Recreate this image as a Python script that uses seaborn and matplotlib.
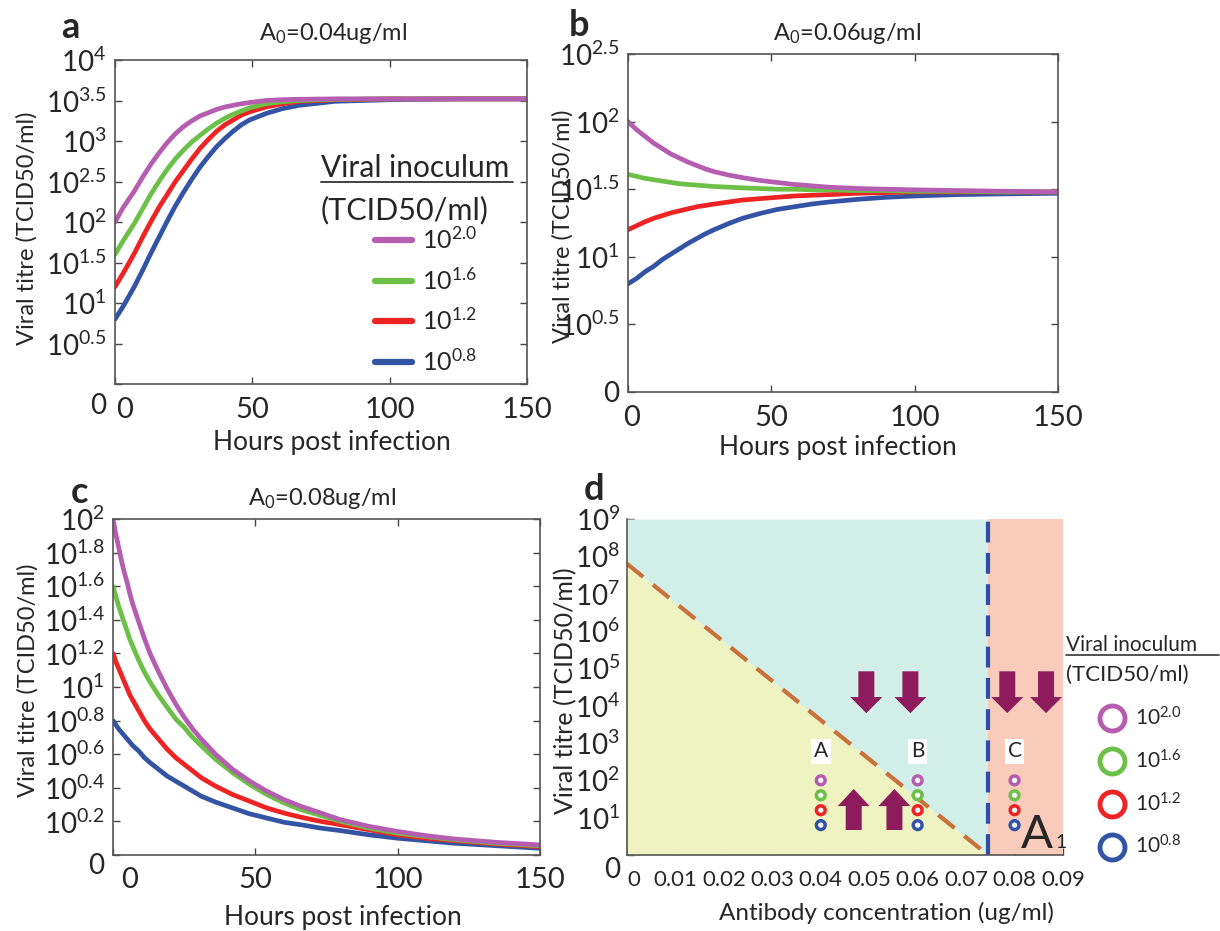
import matplotlib
matplotlib.use("Agg")
import matplotlib.pyplot as plt
import seaborn as sns
import pandas as pd
from matplotlib.lines import Line2D
from matplotlib.transforms import ScaledTranslation

# viral inoculum levels (log10 TCID50/ml) and line colours
inoculum = ["10$^{2.0}$", "10$^{1.6}$", "10$^{1.2}$", "10$^{0.8}$"]
colors = ["#b55db0", "#6cbf47", "#ee2424", "#3353a4"]

# panel a: A0 = 0.04 ug/ml, log10 titre
hours_a = [0, 3, 7, 10, 13, 16, 19, 22, 25, 28, 31, 34, 37, 40, 43, 46, 49, 55, 61, 67, 80, 100, 125, 150]
titre_a_20 = [2.00, 2.18, 2.38, 2.55, 2.71, 2.85, 2.98, 3.09, 3.18, 3.25, 3.31, 3.35, 3.39, 3.42,
              3.44, 3.46, 3.475, 3.50, 3.51, 3.515, 3.52, 3.52, 3.52, 3.52]
titre_a_16 = [1.60, 1.77, 1.98, 2.16, 2.34, 2.50, 2.65, 2.78, 2.89, 2.99, 3.07, 3.15, 3.22, 3.28,
              3.33, 3.37, 3.41, 3.46, 3.485, 3.50, 3.515, 3.52, 3.52, 3.52]
titre_a_12 = [1.20, 1.37, 1.61, 1.81, 2.00, 2.18, 2.34, 2.50, 2.64, 2.78, 2.91, 3.02, 3.12, 3.20,
              3.26, 3.32, 3.36, 3.42, 3.46, 3.49, 3.51, 3.52, 3.52, 3.52]
titre_a_08 = [0.80, 0.96, 1.20, 1.40, 1.61, 1.81, 2.01, 2.20, 2.37, 2.53, 2.68, 2.81, 2.93, 3.03,
              3.12, 3.20, 3.26, 3.34, 3.40, 3.44, 3.49, 3.51, 3.52, 3.52]

# panel b: A0 = 0.06 ug/ml
hours_b = [0, 3, 6, 9, 12, 15, 18, 21, 24, 27, 30, 35, 40, 46, 52, 58, 64, 70, 80, 90, 100, 115, 130, 150]
titre_b_20 = [2.00, 1.94, 1.89, 1.84, 1.80, 1.76, 1.73, 1.70, 1.675, 1.65, 1.63, 1.605, 1.585, 1.565,
              1.55, 1.535, 1.525, 1.515, 1.505, 1.50, 1.495, 1.49, 1.485, 1.48]
titre_b_16 = [1.61, 1.595, 1.58, 1.57, 1.56, 1.55, 1.54, 1.535, 1.53, 1.525, 1.52, 1.515, 1.51, 1.505,
              1.50, 1.50, 1.495, 1.495, 1.49, 1.49, 1.485, 1.485, 1.48, 1.48]
titre_b_12 = [1.20, 1.23, 1.26, 1.285, 1.305, 1.325, 1.34, 1.355, 1.37, 1.38, 1.39, 1.405, 1.42, 1.43,
              1.44, 1.45, 1.455, 1.46, 1.47, 1.475, 1.48, 1.48, 1.48, 1.48]
titre_b_08 = [0.80, 0.84, 0.89, 0.93, 0.98, 1.02, 1.06, 1.10, 1.135, 1.17, 1.20, 1.245, 1.285, 1.32,
              1.35, 1.37, 1.39, 1.405, 1.425, 1.44, 1.45, 1.46, 1.465, 1.47]

# panel c: A0 = 0.08 ug/ml
hours_c = [0, 1, 2, 3, 4, 5, 6, 7, 9, 11, 13, 16, 19, 22, 25, 28, 31, 36, 42, 48, 54, 60, 66, 73,
           80, 90, 100, 110, 120, 135, 150]
titre_c_20 = [2.00, 1.91, 1.83, 1.75, 1.68, 1.62, 1.55, 1.49, 1.39, 1.29, 1.20, 1.09, 0.99, 0.90,
              0.82, 0.75, 0.69, 0.60, 0.51, 0.44, 0.38, 0.33, 0.29, 0.25, 0.21, 0.17, 0.14, 0.115,
              0.095, 0.075, 0.06]
titre_c_16 = [1.60, 1.54, 1.48, 1.43, 1.38, 1.33, 1.28, 1.24, 1.16, 1.09, 1.03, 0.95, 0.88, 0.81,
              0.76, 0.70, 0.65, 0.57, 0.49, 0.42, 0.36, 0.31, 0.27, 0.235, 0.20, 0.16, 0.13, 0.11,
              0.09, 0.07, 0.055]
titre_c_12 = [1.20, 1.15, 1.11, 1.07, 1.03, 0.99, 0.95, 0.92, 0.86, 0.80, 0.75, 0.69, 0.63, 0.58,
              0.54, 0.50, 0.46, 0.41, 0.36, 0.32, 0.28, 0.25, 0.225, 0.20, 0.18, 0.15, 0.12, 0.10,
              0.085, 0.065, 0.05]
titre_c_08 = [0.80, 0.775, 0.75, 0.73, 0.71, 0.69, 0.67, 0.65, 0.62, 0.58, 0.55, 0.51, 0.47, 0.44,
              0.41, 0.38, 0.35, 0.315, 0.28, 0.245, 0.22, 0.195, 0.18, 0.16, 0.145, 0.12, 0.10,
              0.085, 0.07, 0.055, 0.04]

# panel d: phase diagram
boundary_ab = [0.0, 0.0745]      # antibody conc. along the dashed boundary
boundary_titre = [7.8, 0.0]      # log10 titre along the dashed boundary
critical_ab = 0.0745             # A1
sample_ab = [0.04, 0.06, 0.08]
sample_names = ["A", "B", "C"]
sample_titre = [2.0, 1.6, 1.2, 0.8]
down_arrow_ab = [0.0494, 0.0585, 0.0785, 0.0865]
down_arrow_from, down_arrow_to = 4.92, 3.80
up_arrow_ab = [0.0468, 0.0552]
up_arrow_from, up_arrow_to = 0.67, 1.77

yticks_a = [0, 0.5, 1, 1.5, 2, 2.5, 3, 3.5, 4]
yticks_b = [0, 0.5, 1, 1.5, 2, 2.5]
yticks_c = [0, 0.2, 0.4, 0.6, 0.8, 1, 1.2, 1.4, 1.6, 1.8, 2]
yticks_d = [0, 1, 2, 3, 4, 5, 6, 7, 8, 9]
xticks_hours = [0, 50, 100, 150]
xticks_ab = [0, 0.01, 0.02, 0.03, 0.04, 0.05, 0.06, 0.07, 0.08, 0.09]


def long_frame(hours, series):
    rows = []
    for name, vals in zip(inoculum, series):
        for h, v in zip(hours, vals):
            rows.append({"hours": h, "titre": v, "inoculum": name})
    return pd.DataFrame(rows)


def pow_label(v):
    if v == 0:
        return "0"
    if float(v).is_integer():
        return "10$^{%d}$" % v
    return "10$^{%g}$" % v


sns.set_theme(style="ticks")
plt.rcParams["font.family"] = ["Lato", "DejaVu Sans"]
plt.rcParams["mathtext.fontset"] = "custom"
plt.rcParams["mathtext.rm"] = "Lato"
plt.rcParams["mathtext.it"] = "Lato:italic"
plt.rcParams["mathtext.bf"] = "Lato:bold"
plt.rcParams["mathtext.default"] = "regular"

fig = plt.figure(figsize=(12.2, 9.31), dpi=100)
W, H = 1220, 931


def box(left, top, right, bottom):
    return [left / W, 1 - bottom / H, (right - left) / W, (bottom - top) / H]


ax_a = fig.add_axes(box(115, 60, 527, 384))
ax_b = fig.add_axes(box(628, 54, 1058, 392))
ax_c = fig.add_axes(box(113, 519, 540, 855))
ax_d = fig.add_axes(box(627, 519, 1063, 855))

palette = dict(zip(inoculum, colors))
panels = [
    (ax_a, hours_a, [titre_a_20, titre_a_16, titre_a_12, titre_a_08], yticks_a, "A$_0$=0.04ug/ml", (0.53, 1.083)),
    (ax_b, hours_b, [titre_b_20, titre_b_16, titre_b_12, titre_b_08], yticks_b, "A$_0$=0.06ug/ml", (0.51, 1.062)),
    (ax_c, hours_c, [titre_c_20, titre_c_16, titre_c_12, titre_c_08], yticks_c, "A$_0$=0.08ug/ml", (0.49, 1.0625)),
]

for ax, hours, series, yt, title, tpos in panels:
    df = long_frame(hours, series)
    sns.lineplot(data=df, x="hours", y="titre", hue="inoculum", palette=palette,
                 hue_order=inoculum[::-1], linewidth=3.4, legend=False, ax=ax)
    ax.set_xlim(0, 150)
    ax.set_ylim(yt[0], yt[-1])
    ax.set_xticks(xticks_hours)
    ax.set_yticks(yt)
    ax.set_yticklabels([pow_label(v) for v in yt])
    ax.tick_params(axis="x", labelsize=21, pad=9)
    ax.tick_params(axis="y", labelsize=20, pad=6)
    ax.tick_params(direction="in", top=True, right=True, length=5, width=1, color="#444444")
    ax.set_xlabel("Hours post infection", fontsize=19)
    ax.set_ylabel("Viral titre (TCID50/ml)", fontsize=17)
    ax.text(tpos[0], tpos[1], title, transform=ax.transAxes, ha="center", va="center", fontsize=17)
    for s in ax.spines.values():
        s.set_color("#555555")
        s.set_linewidth(1.2)

ax_a.xaxis.set_label_coords(0.527, -0.182)
ax_a.yaxis.set_label_coords(-0.214, 0.48)
ax_b.xaxis.set_label_coords(0.487, -0.163)
ax_b.yaxis.set_label_coords(-0.151, 0.49)
ax_c.xaxis.set_label_coords(0.539, -0.185)
ax_c.yaxis.set_label_coords(-0.199, 0.52)

# panel a legend
handles = [Line2D([], [], color=c, lw=4.5) for c in colors]
ax_a.legend(handles, inoculum, loc="upper left", bbox_to_anchor=(0.6, 0.525), frameon=False,
            fontsize=18, handlelength=1.5, labelspacing=0.56, handletextpad=0.4, borderpad=0)
ax_a.text(0.5, 0.667, "Viral inoculum", transform=ax_a.transAxes, ha="left", va="center", fontsize=21.5)
ax_a.add_line(Line2D([0.5, 0.965], [0.625, 0.625], transform=ax_a.transAxes, color="#333333", lw=1.3))
ax_a.text(0.5, 0.537, "(TCID50/ml)", transform=ax_a.transAxes, ha="left", va="center", fontsize=22)

# panel d: regions
ax_d.fill_between(boundary_ab, boundary_titre, yticks_d[-1], color="#d2eee9", lw=0)
ax_d.fill_between(boundary_ab, yticks_d[0], boundary_titre, color="#eef3c1", lw=0)
ax_d.axvspan(critical_ab, xticks_ab[-1], color="#f9cbbb", lw=0)
sns.lineplot(x=boundary_ab, y=boundary_titre, color="#c9713a", lw=3, dashes=False, ax=ax_d)
ax_d.lines[-1].set_dashes((5, 3))
ax_d.axvline(critical_ab, color="#2f4fa6", lw=3, dashes=(5, 2.5))

for x in down_arrow_ab:
    ax_d.arrow(x, down_arrow_from, 0, down_arrow_to - down_arrow_from, width=0.0033,
               head_width=0.0066, head_length=0.43, length_includes_head=True,
               color="#8e1b5c", lw=0, zorder=4)
for x in up_arrow_ab:
    ax_d.arrow(x, up_arrow_from, 0, up_arrow_to - up_arrow_from, width=0.0033,
               head_width=0.0066, head_length=0.46, length_includes_head=True,
               color="#8e1b5c", lw=0, zorder=4)

for x, name in zip(sample_ab, sample_names):
    ax_d.scatter([x] * 4, sample_titre, s=40, facecolors="white", edgecolors=colors,
                 linewidths=2.5, zorder=5)
    ax_d.text(x, 2.78, name, ha="center", va="center", fontsize=15, zorder=5,
              bbox=dict(facecolor="white", edgecolor="none", pad=2))

ax_d.text(0.0812, 0.18, "A", fontsize=34, ha="left", va="baseline", zorder=6)
ax_d.text(0.0885, 0.2, "1", fontsize=14, ha="left", va="baseline", zorder=6)

ax_d.set_xlim(xticks_ab[0], xticks_ab[-1])
ax_d.set_ylim(yticks_d[0], yticks_d[-1])
ax_d.set_xticks(xticks_ab)
ax_d.set_xticklabels(["%g" % v for v in xticks_ab])
ax_d.set_yticks(yticks_d)
ax_d.set_yticklabels([pow_label(v) for v in yticks_d])
ax_d.tick_params(axis="x", labelsize=16, pad=11)
ax_d.tick_params(axis="y", labelsize=20, pad=5)
ax_d.tick_params(direction="in", length=5, width=1, color="#444444")
ax_d.spines["top"].set_visible(False)
ax_d.spines["right"].set_visible(False)
for s in ["left", "bottom"]:
    ax_d.spines[s].set_color("#555555")
    ax_d.spines[s].set_linewidth(1.2)
ax_d.set_xlabel("Antibody concentration (ug/ml)", fontsize=17.5)
ax_d.set_ylabel("Viral titre (TCID50/ml)", fontsize=18)
ax_d.xaxis.set_label_coords(0.596, -0.173)
ax_d.yaxis.set_label_coords(-0.14, 0.49)

circ = [Line2D([], [], ls="", marker="o", mfc="white", mec=c, ms=18, mew=3.5) for c in colors]
ax_d.legend(circ, inoculum, loc="upper left", bbox_to_anchor=(1.06, 0.475), frameon=False,
            fontsize=15, handlelength=1.2, labelspacing=0.95, handletextpad=0.5, borderpad=0)
ax_d.text(1.007, 0.625, "Viral inoculum", transform=ax_d.transAxes, ha="left", va="center", fontsize=15)
ax_d.add_line(Line2D([1.007, 1.358], [0.595, 0.595], transform=ax_d.transAxes, color="#333333",
                     lw=1.2, clip_on=False))
ax_d.text(1.007, 0.536, "(TCID50/ml)", transform=ax_d.transAxes, ha="left", va="center", fontsize=16)

for ax in [ax_a, ax_b, ax_c, ax_d]:
    ax.xaxis.label.set_va("center")
    ax.yaxis.label.set_va("center")

# panel letters
for letter, (px, py) in zip("abcd", [(70, 27), (579, 25), (80, 493), (594, 490)]):
    fig.text(px / W, 1 - py / H, letter, fontsize=26, fontweight="bold", ha="center", va="center")

# shift the "0" tick labels like in the original
shifts = {ax_a: (10, -19), ax_b: (4, 0), ax_c: (17, -8), ax_d: (7, -12)}
for ax, (dx, dy) in shifts.items():
    xl = ax.get_xticklabels()[0]
    xl.set_transform(xl.get_transform() + ScaledTranslation(dx / 100, 0, fig.dpi_scale_trans))
    yl = ax.get_yticklabels()[0]
    yl.set_transform(yl.get_transform() + ScaledTranslation(0, dy / 100, fig.dpi_scale_trans))

fig.savefig("out.png", dpi=100)
